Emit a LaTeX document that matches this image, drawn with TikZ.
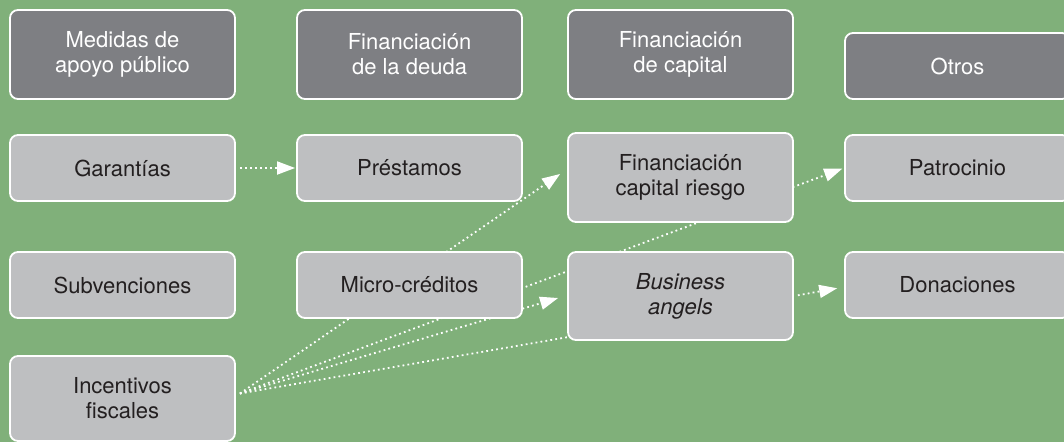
\documentclass[tikz,border=0pt]{standalone}
\usepackage{fontspec}
\setmainfont{TeX Gyre Heros}
\usepackage{tikz}
\usetikzlibrary{arrows.meta, positioning}
\definecolor{verde}{HTML}{80B07A}
\definecolor{grisoscuro}{HTML}{7E7F83}
\definecolor{grisclaro}{HTML}{BEBFC1}
\definecolor{texto}{HTML}{231F20}
\pgfdeclarelayer{fondo}
\pgfdeclarelayer{lineas}
\pgfsetlayers{fondo,lineas,main}

\begin{document}
\begin{tikzpicture}[x=1pt, y=-1pt,
		caja/.style={rounded corners=8pt, draw=white, line width=1.8pt, fill=grisclaro, text=texto,
			minimum width=225pt, minimum height=66pt, align=center, inner sep=0pt,
			font=\fontsize{22}{25}\selectfont},
		titulo/.style={caja, fill=grisoscuro, text=white},
		flecha/.style={white, line width=1.8pt, dash pattern=on 1.8pt off 3.2pt,
			-{Triangle[length=18pt, width=13pt, fill=white]}},
		punteada/.style={white, line width=1.8pt, dash pattern=on 1.8pt off 3.2pt}]
		\useasboundingbox (0,0) rectangle (1064,442);
		\begin{pgfonlayer}{fondo}
			\fill [verde] (0,0) rectangle (1064,442);
		\end{pgfonlayer}
		% headers:
		\node [titulo, minimum height=89pt] (med) at (122.5,54.5) {Medidas de\\apoyo público};
		\node [titulo, minimum height=89pt] (deu) at (409.5,54.5) {Financiación\\de la deuda};
		\node [titulo, minimum height=89pt] (cap) at (680.5,54.5) {Financiación\\de capital};
		\node [titulo] (otr) at (957.5,66) {Otros};
		% row 1
		\node [caja] (gar) at (122.5,168) {Garantías};
		\node [caja] (pre) at (409.5,168) {Préstamos};
		\node [caja, minimum height=89pt] (cr) at (680.5,177.5) {Financiación\\capital riesgo};
		\node [caja] (pat) at (957.5,168) {Patrocinio};
		% row 2
		\node [caja] (sub) at (122.5,285) {Subvenciones};
		\node [caja] (mic) at (409.5,285) {Micro-créditos};
		\node [caja, minimum height=88pt] (ba) at (680.5,296) {\textit{Business}\\\textit{angels}};
		\node [caja] (don) at (957.5,285) {Donaciones};
		% row 3
		\node [caja, minimum height=85pt] (inc) at (122.5,398.5) {Incentivos\\fiscales};
		\coordinate (fis) at ([shift={(4pt,5pt)}]inc.east);
		% dotted arrows
		\begin{pgfonlayer}{lineas}
			\draw [flecha, shorten <=4pt, shorten >=1pt] (gar.east)--(pre.west);
			\draw [flecha] (fis)--([shift={(-7pt,3.5pt)}]cr.west);
			\draw [flecha, shorten >=2pt] (fis)--(pat.west);
			\draw [flecha] (fis)--([shift={(-9pt,-2pt)}]ba.west);
			\draw [punteada] (fis)--([shift={(2pt,4pt)}]ba.south west);
			\draw [flecha, shorten <=4pt, shorten >=7pt] (ba.east)--([yshift=-2pt]don.west);
		\end{pgfonlayer}
	\end{tikzpicture}
\end{document}
